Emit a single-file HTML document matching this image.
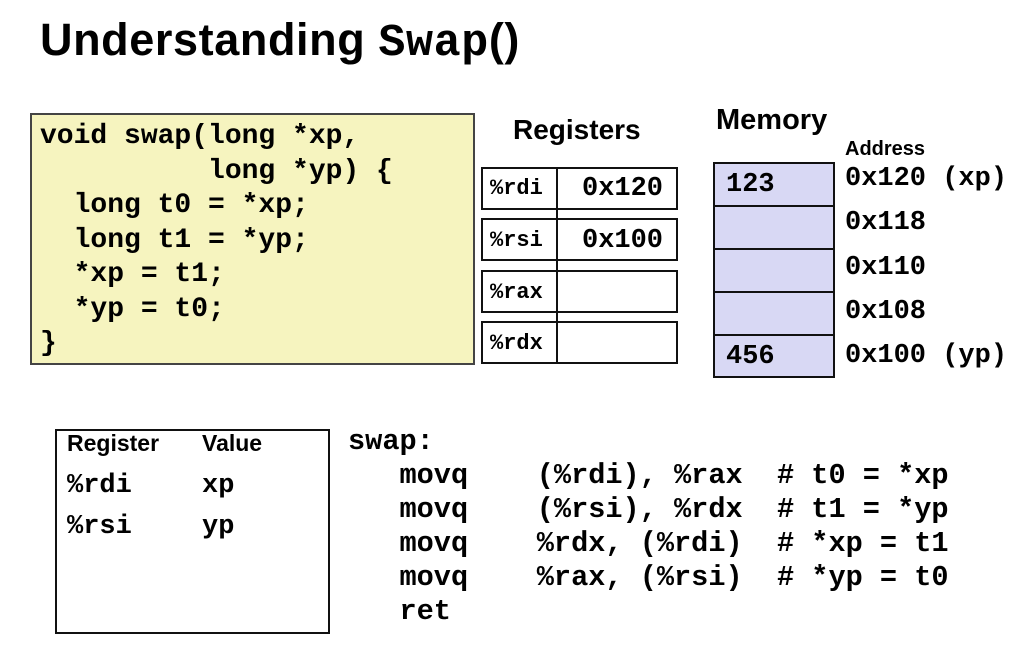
<!DOCTYPE html>
<html><head><meta charset="utf-8"><style>
body{margin:0;width:1023px;height:667px;background:#fff;position:relative;overflow:hidden;font-family:"Liberation Sans",sans-serif;color:#000}
.a{position:absolute;white-space:pre}
.m{font-family:"Liberation Mono",monospace;font-weight:bold}
.s{font-family:"Liberation Sans",sans-serif;font-weight:bold}
.box{position:absolute;border:2px solid #111;box-sizing:border-box}
</style></head><body>
<div class="a" style="left:40px;top:12px;font-size:45px;line-height:56px;letter-spacing:0.6px"><span class="s">Understanding </span><span class="m">Swap</span><span class="s">()</span></div>

<div class="box" style="left:30px;top:113px;width:445px;height:252px;background:#f6f4bf;border-color:#444"></div>
<div class="a m" style="left:40px;top:120px;font-size:28px;line-height:34.5px">void swap(long *xp,
          long *yp) {
  long t0 = *xp;
  long t1 = *yp;
  *xp = t1;
  *yp = t0;
}</div>

<div class="a s" style="left:513px;top:113px;font-size:28px;line-height:34px">Registers</div>
<div class="box" style="left:481px;top:167px;width:197px;height:43px"></div>
<div class="box" style="left:481px;top:218px;width:197px;height:43px"></div>
<div class="box" style="left:481px;top:270px;width:197px;height:43px"></div>
<div class="box" style="left:481px;top:321px;width:197px;height:43px"></div>
<div style="position:absolute;left:556px;top:167px;width:2px;height:197px;background:#111"></div>
<div class="a m" style="left:490px;top:175px;font-size:22px;line-height:28px">%rdi</div>
<div class="a m" style="left:490px;top:227px;font-size:22px;line-height:28px">%rsi</div>
<div class="a m" style="left:490px;top:279px;font-size:22px;line-height:28px">%rax</div>
<div class="a m" style="left:490px;top:330px;font-size:22px;line-height:28px">%rdx</div>
<div class="a m" style="left:582px;top:173px;font-size:27px;line-height:32px">0x120</div>
<div class="a m" style="left:582px;top:225px;font-size:27px;line-height:32px">0x100</div>

<div class="a s" style="left:716px;top:102px;font-size:29px;line-height:36px">Memory</div>
<div class="a s" style="left:845px;top:137px;font-size:20px;line-height:24px">Address</div>
<div class="box" style="left:713px;top:162px;width:122px;height:216px;background:#d8d8f4"></div>
<div style="position:absolute;left:713px;top:205px;width:122px;height:2px;background:#111"></div>
<div style="position:absolute;left:713px;top:248px;width:122px;height:2px;background:#111"></div>
<div style="position:absolute;left:713px;top:291px;width:122px;height:2px;background:#111"></div>
<div style="position:absolute;left:713px;top:334px;width:122px;height:2px;background:#111"></div>
<div class="a m" style="left:726px;top:169px;font-size:27px;line-height:32px">123</div>
<div class="a m" style="left:726px;top:341px;font-size:27px;line-height:32px">456</div>
<div class="a m" style="left:845px;top:163px;font-size:27px;line-height:32px">0x120 (xp)</div>
<div class="a m" style="left:845px;top:207px;font-size:27px;line-height:32px">0x118</div>
<div class="a m" style="left:845px;top:252px;font-size:27px;line-height:32px">0x110</div>
<div class="a m" style="left:845px;top:296px;font-size:27px;line-height:32px">0x108</div>
<div class="a m" style="left:845px;top:340px;font-size:27px;line-height:32px">0x100 (yp)</div>

<div class="box" style="left:55px;top:429px;width:275px;height:205px"></div>
<div class="a s" style="left:67px;top:429px;font-size:23px;line-height:28px">Register</div>
<div class="a s" style="left:202px;top:429px;font-size:23px;line-height:28px">Value</div>
<div class="a m" style="left:67px;top:470px;font-size:27px;line-height:32px">%rdi</div>
<div class="a m" style="left:202px;top:470px;font-size:27px;line-height:32px">xp</div>
<div class="a m" style="left:67px;top:511px;font-size:27px;line-height:32px">%rsi</div>
<div class="a m" style="left:202px;top:511px;font-size:27px;line-height:32px">yp</div>

<div class="a m" style="left:348px;top:425px;font-size:28.6px;line-height:34px">swap:
   movq    (%rdi), %rax  # t0 = *xp
   movq    (%rsi), %rdx  # t1 = *yp
   movq    %rdx, (%rdi)  # *xp = t1
   movq    %rax, (%rsi)  # *yp = t0
   ret</div>
</body></html>
